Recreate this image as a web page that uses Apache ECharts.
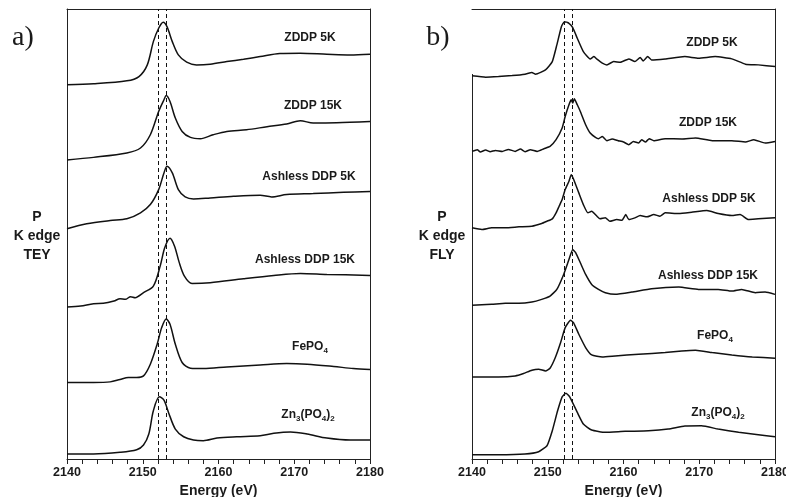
<!DOCTYPE html>
<html>
<head>
<meta charset="utf-8">
<script src="https://cdn.jsdelivr.net/npm/echarts@6/dist/echarts.min.js"></script>
<style>
  html, body { margin: 0; padding: 0; background: #fff; }
  #main { width: 786px; height: 497px; }
</style>
</head>
<body>
<div id="main"></div>
<script>
// energy axis (eV)
const xTicks = [2140, 2150, 2160, 2170, 2180];
// dashed reference energies
const edgeTEY = [2152.1, 2153.1];
const edgeFLY = [2152.2, 2153.2];

const sampleNames = ['ZDDP 5K', 'ZDDP 15K', 'Ashless DDP 5K', 'Ashless DDP 15K', 'FePO4', 'Zn3(PO4)2'];

// a) TEY spectra, stacked, arbitrary units
const teyZddp5k = [[2140,377.7],[2143.5,378.7],[2147.9,381.7],[2149.5,386],[2150.6,397.7],[2151.4,421],[2152.1,434.4],[2152.7,440.4],[2153.2,436],[2153.9,421],[2154.7,407.7],[2155.8,400.4],[2157.1,397.7],[2158.9,398.4],[2161.1,401],[2163.3,403.4],[2165.5,406],[2168.1,409],[2170.8,409.4],[2174.3,408.4],[2177.4,407.7],[2180,408.4]];
const teyZddp15k = [[2140,302.4],[2143.5,305],[2147.9,309.4],[2149.7,314.4],[2151,327.7],[2152.1,351],[2152.8,362.7],[2153.1,367],[2153.6,361],[2154.3,344.4],[2155.2,331],[2156.3,325],[2157.6,323.7],[2159.3,327.7],[2161.1,331],[2163.7,332.7],[2166.4,335.7],[2169,338.4],[2170.8,341.7],[2172.5,339.4],[2175.6,339.7],[2180,341]];
const teyAsh5k = [[2140,233.4],[2142.6,238.4],[2145.7,241.7],[2147.9,243.4],[2149.7,249.4],[2151,257.7],[2152.1,272.7],[2152.8,289.4],[2153.2,296],[2153.9,289.4],[2154.7,272.7],[2155.6,265.4],[2156.7,263.4],[2158.9,264.4],[2162,266],[2165.5,267],[2167,265.4],[2169,267.7],[2172.5,268.7],[2176.5,270],[2180,270.7]];
const teyAsh15k = [[2140,155],[2141.8,156],[2143.5,158.4],[2144.8,158.7],[2146.2,161],[2147,163.4],[2147.7,162.7],[2148.4,165.4],[2149,164.4],[2150.1,169.4],[2151.4,176],[2152.3,196],[2152.9,214.4],[2153.6,224],[2154.2,216],[2154.8,200],[2155.5,186],[2156.5,178.7],[2158.9,179.4],[2163.3,183.4],[2167.3,186.7],[2170.8,188.7],[2174.3,187.7],[2180,186.7]];
const teyFePO4 = [[2140,79.4],[2143.5,79.4],[2145.7,80],[2147,82.4],[2148.1,84.4],[2149.2,84.4],[2150.1,86],[2151,97.7],[2151.9,117.7],[2152.5,134.4],[2153.1,143],[2153.6,137.7],[2154.3,117.7],[2155.2,99.4],[2156.3,93.7],[2158,93.4],[2161.1,95],[2165.5,97],[2169,98.4],[2171.7,97.7],[2175.2,95.4],[2177.8,93.4],[2180,92.4]];
const teyZn = [[2140,7.7],[2143.5,7.7],[2147,9.4],[2149.2,12],[2150.1,16.7],[2150.8,27.7],[2151.4,51],[2152.2,65],[2152.8,61.7],[2153.4,49.4],[2154.3,32.7],[2155.4,25],[2156.7,21.7],[2158,21],[2159.8,23.7],[2162.4,25],[2165.5,26],[2167.3,28.4],[2169.5,29.7],[2171.7,27.7],[2174.3,23.7],[2177.4,21.7],[2180,21.7]];

// b) FLY spectra
const flyZddp5k = [[2140,386.7],[2141.8,385.4],[2143.5,386],[2145.3,387],[2147,388.4],[2147.9,390],[2148.4,388.4],[2149.7,392.7],[2150.6,401],[2151.2,417.7],[2151.8,436],[2152.2,441],[2152.8,439.4],[2153.3,435],[2153.9,424.4],[2154.7,411],[2155.6,403.7],[2156.1,406],[2156.5,403.4],[2157.2,399.4],[2157.8,397.7],[2158.7,401],[2159.6,400.4],[2160.7,403.7],[2161.5,401],[2162.2,405],[2162.6,401.7],[2163.2,406],[2163.7,402.7],[2165.5,403.7],[2168.1,406],[2169.9,404.4],[2172.1,406],[2174.3,403.7],[2176.1,398.4],[2177.8,397.7],[2180,396]];
const flyZddp15k = [[2140,311],[2140.7,312.7],[2141.1,310.4],[2141.8,312.4],[2142.4,310.7],[2143.1,312],[2144,311],[2144.8,313],[2145.7,311],[2146.4,313.4],[2147,310.7],[2147.7,312.7],[2148.6,311],[2149.5,313.7],[2150.3,316],[2151.1,322.7],[2151.9,334.4],[2152.3,346],[2152.8,357.7],[2153.1,362.7],[2153.3,359.4],[2153.5,363.7],[2153.9,357.7],[2154.3,351],[2155,337.7],[2155.6,329.4],[2156.3,325],[2156.7,323.7],[2157.2,326],[2157.8,321.7],[2158.5,323.4],[2159.3,321.7],[2160,320.4],[2160.7,317.7],[2161.3,321],[2162,319.4],[2162.4,322.7],[2162.9,320.4],[2163.4,323.7],[2164,321.7],[2165.5,323.7],[2167.7,323.4],[2169.5,324.4],[2171.7,321.7],[2174.3,321.7],[2176.1,320.4],[2177.2,322.7],[2178.7,319.4],[2180,321]];
const flyAsh5k = [[2140,234.4],[2141.3,232.7],[2142.6,234.4],[2144.4,234.4],[2146.2,235.4],[2147.9,236],[2149.2,238.7],[2149.9,241],[2150.6,243.4],[2151.1,249.4],[2151.5,256],[2151.9,262.7],[2152.3,272.7],[2152.8,281],[2153.1,287.7],[2153.4,283.4],[2154.1,269.4],[2154.7,257.7],[2155.3,249.4],[2155.8,251],[2156.5,246],[2156.9,243.4],[2157.6,244.4],[2158.2,241],[2159.1,242.7],[2159.8,242],[2160.3,247.7],[2160.7,242.7],[2161.5,244.4],[2162.2,246.7],[2163.1,245.4],[2164,247.7],[2164.8,246],[2165.5,249.4],[2167.3,248.7],[2169,250],[2171,251.7],[2172.5,248.7],[2174.3,246.7],[2175.4,247.7],[2176.5,242.7],[2177.8,243.4],[2180,244.4]];
const flyAsh15k = [[2140,156.7],[2141.3,157.4],[2142.6,157.7],[2144.4,158.7],[2146.2,158.7],[2147.9,160],[2149.2,162.7],[2150.3,166],[2151.2,172.7],[2152.1,187.7],[2152.8,202.7],[2153.3,212.7],[2153.7,209.4],[2154.3,199.4],[2155,187.7],[2155.8,177.7],[2156.7,172.7],[2157.6,169.4],[2158.9,167.7],[2161.1,170],[2163.7,173.4],[2167.3,175],[2169.9,172.7],[2172.5,172.7],[2174.3,171],[2175.6,172.7],[2177.4,169.4],[2178.7,170],[2180,167.7]];
const flyFePO4 = [[2140,85],[2143.5,85],[2145.7,86],[2146.8,88.4],[2147.9,91.7],[2148.8,92.7],[2149.7,91],[2150.3,93.7],[2151,104.4],[2151.7,119.4],[2152.3,134.4],[2153,141.7],[2153.4,139.4],[2154.1,127.7],[2155,114.4],[2155.8,107],[2157.2,105],[2158.9,106],[2162,107.7],[2165.5,109.4],[2167.7,111],[2169.5,111.7],[2171.7,109.4],[2174.3,107],[2177,105],[2180,103.7]];
const flyZn = [[2140,7],[2143.5,7],[2147,7.7],[2148.8,10],[2149.9,16],[2150.6,31],[2151.3,51],[2151.9,65],[2152.4,68.7],[2152.9,65],[2153.9,49.4],[2154.7,37.7],[2155.8,31.7],[2157.6,29.4],[2160.2,30.4],[2163.3,31],[2165.9,32.7],[2168.1,35.7],[2170.3,36],[2172.5,32.7],[2175.2,29.4],[2177.8,27],[2180,25]];

const teyData = [teyZddp5k, teyZddp15k, teyAsh5k, teyAsh15k, teyFePO4, teyZn];
const flyData = [flyZddp5k, flyZddp15k, flyAsh5k, flyAsh15k, flyFePO4, flyZn];

// label anchor points (px), layout only
const teyLabelPos = [[310, 38], [313, 106], [309, 177], [305, 260], [310, 347], [308, 415]];
const flyLabelPos = [[712, 43], [708, 123], [709, 199], [708, 276], [715, 336], [718, 413]];

const FONT = '"Liberation Sans", Arial, sans-serif';
const INK = '#1a1a1a';

// names with subscripts as rich text
function richName(name) {
  if (name === 'FePO4') return '{b|FePO}{s|4}';
  if (name === 'Zn3(PO4)2') return '{b|Zn}{s|3}{b|(PO}{s|4}{b|)}{s|2}';
  return '{b|' + name + '}';
}
const richStyle = {
  b: { fontSize: 12, fontWeight: 'bold', fontFamily: FONT, fill: INK, lineHeight: 16 },
  s: { fontSize: 8, fontWeight: 'bold', fontFamily: FONT, fill: INK, lineHeight: 8, verticalAlign: 'bottom' }
};

function labelGraphics(pos) {
  return sampleNames.map((n, i) => ({
    type: 'text', x: pos[i][0], y: pos[i][1], silent: true,
    style: { text: richName(n), rich: richStyle, align: 'center', verticalAlign: 'middle' }
  }));
}

function frameAxes(grid) {
  const base = { gridIndex: grid, type: 'value', min: xTicks[0], max: xTicks[xTicks.length - 1] };
  return [
    Object.assign({}, base, {
      position: 'bottom', interval: 10,
      axisLine: { show: true, lineStyle: { color: '#222', width: 1 } },
      axisTick: { show: true, inside: false, length: 5, lineStyle: { color: '#222' } },
      minorTick: { show: true, splitNumber: 5, length: 5, lineStyle: { color: '#222' } },
      axisLabel: { margin: 7, fontSize: 12.5, fontWeight: 'bold', fontFamily: FONT, color: INK,
        showMinLabel: true, showMaxLabel: true, formatter: v => String(v) },
      splitLine: { show: false },
      name: 'Energy (eV)', nameLocation: 'middle', nameGap: 20,
      nameTextStyle: { fontSize: 14, fontWeight: 'bold', fontFamily: FONT, color: INK }
    }),
    Object.assign({}, base, {
      position: 'top',
      axisLine: { show: true, lineStyle: { color: '#222', width: 1 } },
      axisTick: { show: false }, axisLabel: { show: false }, splitLine: { show: false }
    })
  ];
}

function yFrame(grid, showLeft) {
  const base = { gridIndex: grid, type: 'value', min: 2.7, max: 453.7,
    axisTick: { show: false }, axisLabel: { show: false }, splitLine: { show: false } };
  return [
    Object.assign({}, base, { position: 'left', axisLine: { show: showLeft, onZero: false, lineStyle: { color: '#222', width: 1 } } }),
    Object.assign({}, base, { position: 'right', axisLine: { show: true, onZero: false, lineStyle: { color: '#222', width: 1 } } })
  ];
}

function curves(list, axis, edges, smooth) {
  return list.map((d, i) => {
    const s = {
      type: 'line', xAxisIndex: axis, yAxisIndex: axis, data: d,
      showSymbol: false, smooth: smooth, silent: true, z: 3,
      lineStyle: { color: '#111', width: 1.5 }
    };
    if (i === 0) {
      s.markLine = {
        symbol: 'none', silent: true, label: { show: false },
        lineStyle: { color: '#111', width: 1, type: [4, 3] },
        data: edges.map(e => ({ xAxis: e }))
      };
    }
    return s;
  });
}

const myChart = echarts.init(document.getElementById('main'), null, { renderer: 'canvas' });
myChart.setOption({
  animation: false,
  backgroundColor: '#fff',
  grid: [
    { left: 67, top: 9, width: 303, height: 450, containLabel: false, outerBoundsMode: 'none' },
    { left: 472, top: 9, width: 303, height: 450, containLabel: false, outerBoundsMode: 'none' }
  ],
  xAxis: frameAxes(0).concat(frameAxes(1)),
  yAxis: yFrame(0, true).concat(yFrame(1, false)),
  series: curves(teyData, 0, edgeTEY, 0.3).concat(curves(flyData, 2, edgeFLY, 0.15)),
  graphic: [
    // left border of panel b only runs below the first trace
    { type: 'line', silent: true, shape: { x1: 472.5, y1: 74, x2: 472.5, y2: 459 }, style: { stroke: '#222', lineWidth: 1 } },
    { type: 'text', x: 23, y: 38, silent: true, style: { text: 'a)', font: '28px "Liberation Serif", "Times New Roman", serif', fill: INK, align: 'center', verticalAlign: 'middle' } },
    { type: 'text', x: 438, y: 38, silent: true, style: { text: 'b)', font: '28px "Liberation Serif", "Times New Roman", serif', fill: INK, align: 'center', verticalAlign: 'middle' } },
    { type: 'text', x: 37, y: 236, silent: true, style: { text: 'P\nK edge\nTEY', font: 'bold 14px ' + FONT, lineHeight: 19, fill: INK, align: 'center', verticalAlign: 'middle' } },
    { type: 'text', x: 442, y: 236, silent: true, style: { text: 'P\nK edge\nFLY', font: 'bold 14px ' + FONT, lineHeight: 19, fill: INK, align: 'center', verticalAlign: 'middle' } }
  ].concat(labelGraphics(teyLabelPos), labelGraphics(flyLabelPos))
});
</script>
</body>
</html>
